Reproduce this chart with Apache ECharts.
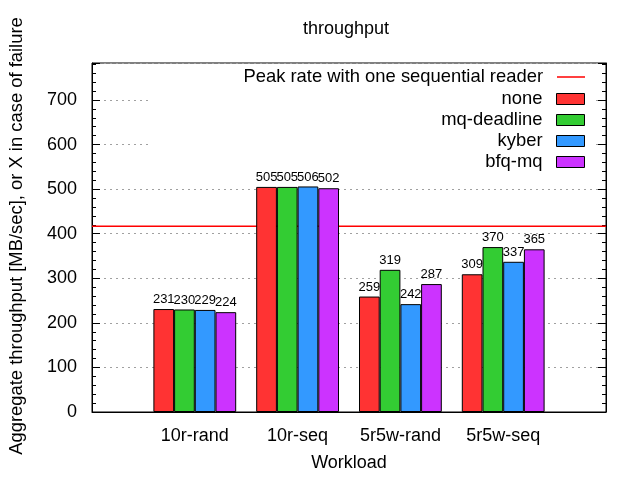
<!DOCTYPE html>
<html>
<head>
<meta charset="utf-8">
<script src="https://cdn.jsdelivr.net/npm/echarts@6/dist/echarts.min.js"></script>
<style>html,body{margin:0;padding:0;background:#fff}#c{width:640px;height:480px}</style>
</head>
<body>
<div id="c"></div>
<script>
const categories = ['10r-rand', '10r-seq', '5r5w-rand', '5r5w-seq'];
const schedulers = ['none', 'mq-deadline', 'kyber', 'bfq-mq'];
const noneVals = [231, 505, 259, 309];
const mqDeadlineVals = [230, 505, 319, 370];
const kyberVals = [229, 506, 242, 337];
const bfqMqVals = [224, 502, 287, 365];
const peakRate = 417;
const peakName = 'Peak rate with one sequential reader';
const barColors = ['#ff3333', '#33cc33', '#3399ff', '#cc33ff'];
const xMin = -1, xMax = 4;
const yMin = 0, yMax = 783, yInterval = 100;

const FONT = 'Liberation Sans';
const allVals = [noneVals, mqDeadlineVals, kyberVals, bfqMqVals];

const barSeries = schedulers.map((name, s) => ({
  name: name,
  type: 'bar',
  xAxisIndex: 0, yAxisIndex: 0,
  data: categories.map((c, i) => [i, allVals[s][i]]),
  barWidth: 20.7,
  barGap: '0%',
  itemStyle: { color: barColors[s], borderColor: '#000', borderWidth: 1 },
  label: { show: true, position: 'top', distance: 3, color: '#000', fontSize: 13, fontFamily: FONT,
           formatter: p => String(p.value[1]) },
  z: 3
}));

const peakSeries = {
  name: peakName,
  type: 'line',
  data: [[xMin, peakRate], [xMax, peakRate]],
  symbol: 'none',
  showSymbol: false,
  lineStyle: { color: '#ff0000', width: 1.5 },
  itemStyle: { color: '#ff0000' },
  z: 2,
  silent: true
};

const legendRowsTop = [68, 90, 111, 132, 153];
const legendNames = [peakName].concat(schedulers);
const legends = legendNames.map((n, i) => ({
  data: [n],
  orient: 'vertical',
  right: 55,
  top: legendRowsTop[i],
  align: 'right',
  padding: 0,
  itemWidth: 28,
  itemHeight: i === 0 ? 1.5 : 11,
  icon: 'rect',
  selectedMode: false,
  textStyle: { fontSize: 18.4, fontFamily: FONT, color: '#000', lineHeight: 18, padding: [0, 9, 0, 0] },
  itemStyle: i === 0 ? { color: '#ff0000', borderWidth: 0 } : { borderColor: '#000', borderWidth: 1 }
}));

const chart = echarts.init(document.getElementById('c'), null, { renderer: 'canvas' });
chart.setOption({
  animation: false,
  backgroundColor: '#fff',
  title: {
    text: 'throughput', left: 346, top: 20, textAlign: 'center', padding: 0,
    textStyle: { fontSize: 18, fontWeight: 'normal', fontFamily: FONT, color: '#000' }
  },
  legend: legends,
  graphic: [{
    type: 'rect', z: 1, silent: true,
    shape: { x: 150, y: 66, width: 444, height: 106 },
    style: { fill: '#fff' }
  }],
  grid: { left: 92, right: 34, top: 63, bottom: 68, show: true, borderColor: '#000', borderWidth: 1, backgroundColor: 'transparent' },
  xAxis: {
    type: 'value', min: xMin, max: xMax, interval: 1,
    name: 'Workload', nameLocation: 'middle', nameGap: 42,
    nameTextStyle: { fontSize: 18, fontFamily: FONT, color: '#000' },
    axisLine: { show: true, onZero: false, lineStyle: { color: '#000', width: 1 } },
    axisTick: { show: false },
    splitLine: { show: false },
    axisLabel: { fontSize: 18, fontFamily: FONT, color: '#000', margin: 15,
                 formatter: v => categories[v] !== undefined ? categories[v] : '' }
  },
  yAxis: [{
    type: 'value', min: yMin, max: yMax, interval: yInterval, position: 'left',
    name: 'Aggregate throughput [MB/sec], or X in case of failure',
    nameLocation: 'middle', nameGap: 66,
    nameTextStyle: { fontSize: 18.4, fontFamily: FONT, color: '#000', padding: [0, 0, 0, 3] },
    axisLine: { show: true, onZero: false, lineStyle: { color: '#000', width: 1 } },
    axisTick: { show: true, inside: true, length: 8, lineStyle: { color: '#000' } },
    minorTick: { show: true, splitNumber: 5, length: 4, lineStyle: { color: '#000' } },
    splitLine: { show: true, lineStyle: { color: '#a0a0a0', width: 1, type: [2, 4] } },
    axisLabel: { fontSize: 18, fontFamily: FONT, color: '#000', margin: 15, showMaxLabel: false }
  }, {
    type: 'value', min: yMin, max: yMax, interval: yInterval, position: 'right',
    alignTicks: false,
    axisLine: { show: true, onZero: false, lineStyle: { color: '#000', width: 1 } },
    axisTick: { show: true, inside: true, length: 8, lineStyle: { color: '#000' } },
    minorTick: { show: true, splitNumber: 5, length: 4, lineStyle: { color: '#000' } },
    splitLine: { show: false },
    axisLabel: { show: false }
  }],
  series: [peakSeries].concat(barSeries)
});
</script>
</body>
</html>
